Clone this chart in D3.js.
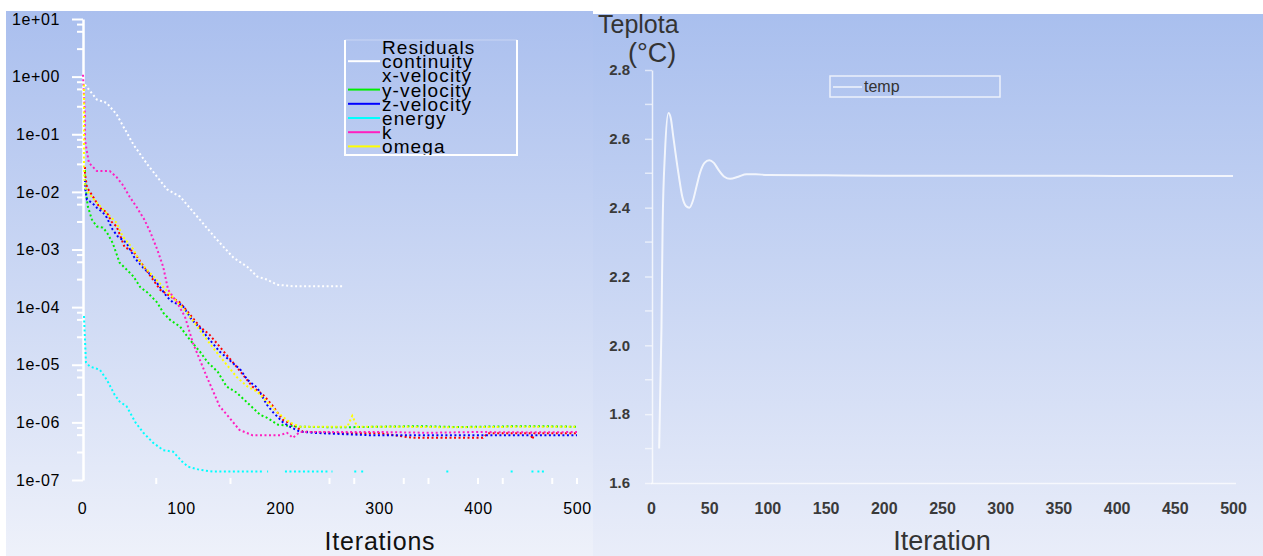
<!DOCTYPE html>
<html>
<head>
<meta charset="utf-8">
<script src="https://cdn.jsdelivr.net/npm/d3@7"></script>
<style>
  body { margin: 0; background: #ffffff; }
  svg { display: block; }
  text { font-family: "Liberation Sans", Arial, sans-serif; }
</style>
</head>
<body>
<div class="chart"></div>
<script>
// ---- residuals (left panel) ----
var residualTicks = [1e1, 1e0, 1e-1, 1e-2, 1e-3, 1e-4, 1e-5, 1e-6, 1e-7];
var residualMinorMant = [8, 6, 3];
var iterTicksLeft = [0, 100, 200, 300, 400, 500];
var iterMinorLeft = [75, 150, 250, 275, 325, 350, 400, 425, 475, 500];

var continuityIter = [3, 15, 25, 35, 52, 66, 86, 99, 119, 136, 153, 167, 177, 187, 197, 213, 240, 264];
var continuityVal = [0.73, 0.40, 0.35, 0.22, 0.066, 0.030, 0.011, 0.0083, 0.0033, 0.0015, 7.2e-4, 5e-4, 3.4e-4, 3e-4, 2.45e-4, 2.3e-4, 2.3e-4, 2.3e-4];

var xvelIter = [3, 3, 5, 8, 13, 18, 25, 30, 35, 43, 52, 61, 70, 79, 99, 119, 129, 156, 172, 183, 192, 203, 213, 223, 260, 300, 334, 405, 410, 453, 455, 457, 500];
var xvelVal = [0.027, 0.021, 0.012, 0.01, 0.0073, 0.0053, 0.0044, 0.003, 0.0025, 0.0011, 9.2e-4, 5.5e-4, 3.3e-4, 2e-4, 1.2e-4, 4.6e-5, 3.3e-5, 9.3e-6, 4.2e-6, 3e-6, 2e-6, 1.1e-6, 9.1e-7, 6.9e-7, 6.5e-7, 6.5e-7, 5.4e-7, 5.4e-7, 6.5e-7, 6.5e-7, 5.1e-7, 6.5e-7, 6.5e-7];

var yvelIter = [3, 3, 5, 6, 10, 15, 21, 25, 31, 38, 45, 52, 59, 66, 76, 82, 89, 99, 109, 119, 127, 137, 146, 156, 167, 180, 187, 198, 220, 260, 300, 340, 380, 420, 460, 500];
var yvelVal = [0.024, 0.016, 0.0073, 0.0055, 0.0033, 0.0025, 0.0024, 0.002, 0.0013, 5.9e-4, 4.5e-4, 3.4e-4, 2.2e-4, 1.8e-4, 1.2e-4, 8e-5, 6e-5, 4.6e-5, 2.7e-5, 1.7e-5, 1.1e-5, 7.6e-6, 4.2e-6, 3.3e-6, 2.2e-6, 1.35e-6, 1.2e-6, 9.1e-7, 8.4e-7, 8.2e-7, 8.4e-7, 8.6e-7, 8.3e-7, 8.5e-7, 8.6e-7, 8.4e-7];

var zvelIter = [3, 3, 5, 10, 15, 21, 25, 31, 36, 45, 53, 61, 71, 79, 86, 92, 101, 111, 119, 129, 139, 149, 160, 167, 177, 187, 193, 203, 210, 220, 233, 250, 290, 330, 400, 450, 500];
var zvelVal = [0.016, 0.012, 0.0073, 0.0065, 0.0053, 0.0044, 0.0036, 0.0022, 0.0017, 0.0013, 7.2e-4, 5e-4, 3.4e-4, 2.2e-4, 1.5e-4, 1.2e-4, 1.1e-4, 6e-5, 4.4e-5, 2.7e-5, 1.7e-5, 1.2e-5, 8.2e-6, 5.5e-6, 4e-6, 2e-6, 1.5e-6, 1e-6, 8.4e-7, 6.9e-7, 6.6e-7, 6.4e-7, 6e-7, 6e-7, 6e-7, 6e-7, 6e-7];

// null = gap in the plotted curve
var energyIter = [2, 4, 8, 18, 25, 33, 38, 45, 54, 62, 72, 82, 92, 101, 107, 119, 132, 183, null, 187, 188, null, 205, 248, null, 252, 253, null, 275, 277, null, 282, 284, null, 368, 370, null, 433, 435, null, 454, 456, null, 460, 469];
var energyVal = [7e-5, 1.1e-5, 9.3e-6, 8.2e-6, 5.5e-6, 3e-6, 2.3e-6, 1.9e-6, 1e-6, 6.6e-7, 4.4e-7, 3.3e-7, 3.1e-7, 2.1e-7, 1.7e-7, 1.5e-7, 1.4e-7, 1.4e-7, null, 1.4e-7, 1.4e-7, null, 1.4e-7, 1.4e-7, null, 1.4e-7, 1.4e-7, null, 1.4e-7, 1.4e-7, null, 1.4e-7, 1.4e-7, null, 1.4e-7, 1.4e-7, null, 1.4e-7, 1.4e-7, null, 1.4e-7, 1.4e-7, null, 1.4e-7, 1.4e-7];

var kIter = [1, 3, 3, 5, 7, 15, 28, 35, 41, 48, 55, 63, 69, 76, 82, 87, 96, 104, 112, 126, 133, 139, 149, 159, 172, 200, 207, 213, 220, 260, 300, 350, 400, 450, 500];
var kVal = [1.08, 0.2, 0.08, 0.05, 0.032, 0.023, 0.023, 0.018, 0.0133, 0.0083, 0.0055, 0.0033, 0.002, 0.001, 5e-4, 2e-4, 1.2e-4, 6.8e-5, 2.4e-5, 6.2e-6, 3.3e-6, 1.9e-6, 1.2e-6, 7.4e-7, 6e-7, 6e-7, 6.6e-7, 5.4e-7, 6.8e-7, 6.8e-7, 6.8e-7, 6.6e-7, 6.8e-7, 6.7e-7, 6.8e-7];

var omegaIter = [2, 2, 2, 3, 8, 15, 23, 35, 41, 52, 59, 72, 90, 106, 132, 156, 167, 177, 197, 210, 220, 268, 273, 278, 320, 380, 440, 500];
var omegaVal = [0.73, 0.08, 0.027, 0.012, 0.0089, 0.0065, 0.0046, 0.0029, 0.0017, 0.001, 5.9e-4, 3.4e-4, 1.6e-4, 8e-5, 2e-5, 6.2e-6, 4.2e-6, 3.4e-6, 1.5e-6, 1e-6, 8.4e-7, 8.4e-7, 1.3e-6, 8.4e-7, 8.4e-7, 8.2e-7, 8.4e-7, 8.4e-7];

var residualNames = ["continuity", "x-velocity", "y-velocity", "z-velocity", "energy", "k", "omega"];
var residualColors = ["#ffffff", "#ff0000", "#00ee00", "#0000ff", "#00ffff", "#ff1fbf", "#ffff00"];
var legendHasLine = [true, false, true, true, true, true, true];

// ---- temperature monitor (right panel) ----
var tempTicks = [1.6, 1.8, 2.0, 2.2, 2.4, 2.6, 2.8];
var tempMinor = [1.7, 1.9, 2.1, 2.3, 2.5, 2.7];
var iterTicksRight = [0, 50, 100, 150, 200, 250, 300, 350, 400, 450, 500];
var tempIter = [7, 9, 10, 12, 15, 17, 19, 21, 24, 27, 30, 33, 36, 39, 42, 46, 50, 54, 58, 63, 68, 75, 82, 90, 100, 150, 200, 250, 300, 350, 400, 450, 500];
var tempVal = [1.70, 2.05, 2.35, 2.56, 2.675, 2.66, 2.61, 2.56, 2.49, 2.43, 2.405, 2.40, 2.42, 2.46, 2.50, 2.53, 2.538, 2.53, 2.51, 2.49, 2.484, 2.49, 2.497, 2.497, 2.495, 2.494, 2.493, 2.493, 2.493, 2.493, 2.492, 2.492, 2.492];

var svgWidth = 1263, svgHeight = 556;

var svg = d3.select(".chart").append("svg")
    .attr("width", svgWidth)
    .attr("height", svgHeight);

// background gradients like the solver window
var defs = svg.append("defs");
function addGrad(id, top, bottom) {
    var g = defs.append("linearGradient").attr("id", id)
        .attr("x1", 0).attr("y1", 0).attr("x2", 0).attr("y2", 1);
    g.append("stop").attr("offset", "0%").attr("stop-color", top);
    g.append("stop").attr("offset", "100%").attr("stop-color", bottom);
}
addGrad("bgLeft", "#aabfee", "#eef1fa");
addGrad("bgRight", "#a9bfee", "#e9edf9");

svg.append("rect").attr("x", 6).attr("y", 11).attr("width", 587).attr("height", 545).attr("fill", "url(#bgLeft)");
svg.append("rect").attr("x", 593).attr("y", 14).attr("width", 670).attr("height", 542).attr("fill", "url(#bgRight)");

defs.append("clipPath").attr("id", "clipLeft")
    .append("rect").attr("x", 82).attr("y", 15).attr("width", 500).attr("height", 466);
defs.append("clipPath").attr("id", "clipLegend")
    .append("rect").attr("x", 345).attr("y", 36).attr("width", 172).attr("height", 119);

// ================= left panel =================
var xL = d3.scaleLinear().domain([0, 500]).range([82, 577]);
var yL = d3.scaleLog().domain([1e-7, 10]).range([480, 19]);

function fmtExp(d) {
    var e = Math.round(Math.log10(d));
    return "1e" + (e < 0 ? "-" : "+") + String(Math.abs(e)).padStart(2, "0");
}

var leftAxis = svg.append("g")
    .attr("transform", "translate(83,0)")
    .call(d3.axisLeft(yL).tickValues(residualTicks).tickFormat(fmtExp)
        .tickSize(11).tickSizeOuter(0).tickPadding(12));
leftAxis.select(".domain").attr("stroke", "#ffffff").attr("stroke-width", 2.5);
leftAxis.selectAll(".tick line").attr("stroke", "#ffffff").attr("stroke-width", 2);
leftAxis.selectAll(".tick text")
    .attr("fill", "#000").attr("font-size", 16).style("letter-spacing", "0.6px");

// minor ticks on log axis
var minorVals = [];
for (var e = -8; e <= 0; e++) {
    residualMinorMant.forEach(function(m) {
        var v = m * Math.pow(10, e);
        if (v > 1e-7 && v < 10) minorVals.push(v);
    });
}
svg.append("g").selectAll("line").data(minorVals).enter().append("line")
    .attr("x1", 77).attr("x2", 83)
    .attr("y1", d => yL(d)).attr("y2", d => yL(d))
    .attr("stroke", "#ffffff").attr("stroke-width", 2);

// bottom axis labels
var bottomLeft = svg.append("g")
    .attr("transform", "translate(0,490)")
    .call(d3.axisBottom(xL).tickValues(iterTicksLeft).tickSize(0));
bottomLeft.select(".domain").remove();
bottomLeft.selectAll(".tick text")
    .attr("dy", null).attr("y", 24)
    .attr("fill", "#000").attr("font-size", 16).style("letter-spacing", "0.6px");

svg.append("g").selectAll("line").data(iterMinorLeft).enter().append("line")
    .attr("x1", d => xL(d)).attr("x2", d => xL(d))
    .attr("y1", 478).attr("y2", 484)
    .attr("stroke", "#ffffff").attr("stroke-width", 2);

svg.append("text").attr("x", 380).attr("y", 550)
    .attr("text-anchor", "middle").attr("font-size", 25).attr("fill", "#111")
    .style("letter-spacing", "0.8px")
    .text("Iterations");

// residual curves
var residualSeries = [
    [continuityIter, continuityVal],
    [xvelIter, xvelVal],
    [yvelIter, yvelVal],
    [zvelIter, zvelVal],
    [energyIter, energyVal],
    [kIter, kVal],
    [omegaIter, omegaVal]
];

var resLine = d3.line()
    .defined(d => d[0] != null && d[1] != null)
    .x(d => xL(d[0]))
    .y(d => yL(d[1]));

var curves = svg.append("g").attr("clip-path", "url(#clipLeft)");
residualSeries.forEach(function(s, i) {
    var pts = s[0].map(function(it, j) { return [it, s[1][j]]; });
    curves.append("path")
        .attr("d", resLine(pts))
        .attr("fill", "none")
        .attr("stroke", residualColors[i])
        .attr("stroke-width", 2)
        .attr("stroke-dasharray", "2,2.5");
});

// legend box
var leg = svg.append("g");
leg.append("path")
    .attr("d", "M345,40 V155 H517 V40")
    .attr("fill", "none").attr("stroke", "#ffffff").attr("stroke-width", 2);
leg.append("line").attr("x1", 345).attr("x2", 517).attr("y1", 40).attr("y2", 40)
    .attr("stroke", "#ffffff").attr("stroke-opacity", 0.35).attr("stroke-width", 1);

var legText = leg.append("g").attr("clip-path", "url(#clipLegend)");
var rowY = d3.scaleLinear().domain([0, 1]).range([47, 61.2]);
legText.append("text").attr("x", 382).attr("y", rowY(0) + 7)
    .attr("font-size", 19).attr("fill", "#000").style("letter-spacing", "1.1px")
    .text("Residuals");
residualNames.forEach(function(name, i) {
    var y = rowY(i + 1);
    if (legendHasLine[i]) {
        leg.append("line").attr("x1", 348).attr("x2", 380).attr("y1", y).attr("y2", y)
            .attr("stroke", residualColors[i]).attr("stroke-width", 2);
    }
    legText.append("text").attr("x", 382).attr("y", y + 7)
        .attr("font-size", 19).attr("fill", "#000").style("letter-spacing", "1.1px")
        .text(name);
});

// ================= right panel =================
var xR = d3.scaleLinear().domain([0, 500]).range([651, 1233]);
var yR = d3.scaleLinear().domain([1.6, 2.8]).range([483, 70]);

var rightAxis = svg.append("g")
    .attr("transform", "translate(652,0)")
    .call(d3.axisLeft(yR).tickValues(tempTicks).tickFormat(d3.format(".1f"))
        .tickSize(7).tickSizeOuter(0).tickPadding(15));
rightAxis.select(".domain").attr("stroke", "#ffffff").attr("stroke-opacity", 0.75).attr("stroke-width", 1.5);
rightAxis.selectAll(".tick line").attr("stroke", "#ffffff").attr("stroke-opacity", 0.6).attr("stroke-width", 1.5);
rightAxis.selectAll(".tick text")
    .attr("fill", "#3a3a3a").attr("font-size", 15).attr("font-weight", "bold");

svg.append("g").selectAll("line").data(tempMinor).enter().append("line")
    .attr("x1", 645).attr("x2", 652)
    .attr("y1", d => yR(d)).attr("y2", d => yR(d))
    .attr("stroke", "#ffffff").attr("stroke-opacity", 0.6).attr("stroke-width", 1.5);

var bottomRight = svg.append("g")
    .attr("transform", "translate(0,483)")
    .call(d3.axisBottom(xR).tickValues(iterTicksRight).tickSize(0).tickSizeOuter(0));
bottomRight.select(".domain").attr("stroke", "#ffffff").attr("stroke-opacity", 0.7).attr("stroke-width", 1.5)
    .attr("d", "M651,0.5H1236");
bottomRight.selectAll(".tick text")
    .attr("dy", null).attr("y", 31)
    .attr("fill", "#3a3a3a").attr("font-size", 16).attr("font-weight", "bold");

svg.append("text").attr("x", 598).attr("y", 33)
    .attr("font-size", 25).attr("fill", "#333").text("Teplota");
svg.append("text").attr("x", 628).attr("y", 62)
    .attr("font-size", 27).attr("fill", "#333").text("(°C)");

svg.append("text").attr("x", 942).attr("y", 550)
    .attr("text-anchor", "middle").attr("font-size", 27).attr("fill", "#333")
    .text("Iteration");

// temperature curve
var tempLine = d3.line()
    .x(d => xR(d[0]))
    .y(d => yR(d[1]))
    .curve(d3.curveMonotoneX);
svg.append("path")
    .attr("d", tempLine(tempIter.map((it, j) => [it, tempVal[j]])))
    .attr("fill", "none")
    .attr("stroke", "#ffffff")
    .attr("stroke-opacity", 0.8)
    .attr("stroke-width", 2);

// temp legend
svg.append("rect").attr("x", 830).attr("y", 76).attr("width", 170).attr("height", 21)
    .attr("fill", "none").attr("stroke", "#ffffff").attr("stroke-opacity", 0.75).attr("stroke-width", 1.5);
svg.append("line").attr("x1", 833).attr("x2", 862).attr("y1", 87).attr("y2", 87)
    .attr("stroke", "#ffffff").attr("stroke-opacity", 0.8).attr("stroke-width", 1.5);
svg.append("text").attr("x", 864).attr("y", 92)
    .attr("font-size", 16).attr("fill", "#333").text("temp");
</script>
</body>
</html>
